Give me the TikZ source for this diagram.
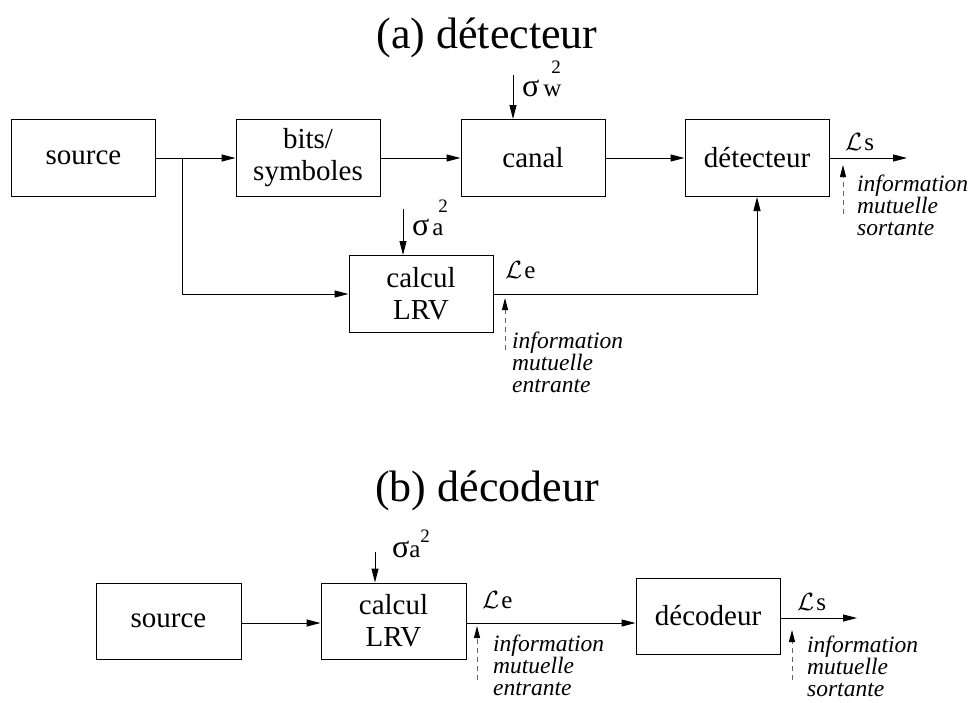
\documentclass[tikz,border=0pt]{standalone}
\usepackage{fontspec}
\setmainfont{Liberation Serif}
\usetikzlibrary{arrows.meta}
\newcommand\sgm[4]{{\fontsize{32}{32}\selectfont σ}\kern#2pt{\fontsize{25}{25}\selectfont\rlap{\kern#3pt\raisebox{#4pt}{\fontsize{19}{19}\selectfont 2}}#1}}
\newcommand\calL[1]{{\fontsize{32}{32}\selectfont$\mathcal{L}$}\kern2pt{\fontsize{25}{25}\selectfont #1}}
\begin{document}
\begin{tikzpicture}[x=1pt,y=-1pt,
  blk/.style={draw,line width=1pt,minimum width=144pt,minimum height=77pt,inner sep=0pt,align=center,font=\fontsize{29}{32}\selectfont},
  arr/.style={line width=1pt,-{Triangle[length=14pt,width=7pt]}},
  ln/.style={line width=1pt},
  dasharr/.style={line width=1pt,draw=black!60,dash pattern=on 5pt off 4pt,-{Triangle[length=12pt,width=6pt,fill=black,color=black]}},
  info/.style={anchor=north west,inner sep=0pt,align=left,font=\fontsize{23.5}{22}\selectfont\itshape},
  lab/.style={anchor=base west,inner sep=0pt},
  ttl/.style={anchor=base,inner sep=0pt,font=\fontsize{44}{46}\selectfont}]
\useasboundingbox (0,0) rectangle (971,702);
% ---------- (a)
\node[ttl] (ta) at (487,48) {(a) détecteur};
\node[blk] (src) at (83.5,158) {source};
\node[blk] (bits) at (308,158) {bits/\\symboles};
\node[blk] (canal) at (533,158) {canal};
\node[blk] (det) at (757,158) {détecteur};
\node[blk] (calc) at (421,294) {calcul\\LRV};
\coordinate (br) at (182,158);
\coordinate (sw) at (513,75);
\coordinate (sa) at (403,209);
\coordinate (lsend) at (907,158);
\draw[ln] (src) -- (br);
\draw[arr] (br) -- (bits);
\draw[arr] (bits) -- (canal);
\draw[arr] (canal) -- (det);
\draw[arr] (br) |- (calc);
\draw[arr] (calc) -| (det);
\draw[arr] (det) -- (lsend);
\draw[arr] (sw) -- (sw |- canal.north);
\draw[arr] (sa) -- (sa |- calc.north);
\node[lab] (sgw) at (522,96) {\sgm{w}{4}{8}{23}};
\node[lab] (sga) at (412,235) {\sgm{a}{3}{6}{23}};
\node[lab] (le1) at (505,278) {\calL{e}};
\node[lab] (ls1) at (845,150) {\calL{s}};
\coordinate (d1a) at (505,350);
\coordinate (d1b) at (505,298);
\draw[dasharr] (d1a) -- (d1b);
\coordinate (d2a) at (843,214);
\coordinate (d2b) at (843,165);
\draw[dasharr] (d2a) -- (d2b);
\node[info] (i1) at (512,332) {information\\mutuelle\\entrante};
\node[info] (i2) at (857,175) {information\\mutuelle\\sortante};
% ---------- (b)
\node[ttl] (tb) at (487,501) {(b) décodeur};
\node[blk,minimum width=145pt,minimum height=76pt] (src2) at (168.5,621) {source};
\node[blk,minimum width=145pt,minimum height=76pt] (calc2) at (393.5,621) {calcul\\LRV};
\node[blk,minimum height=76pt] (dec) at (708,616) {décodeur};
\coordinate (sb) at (375,552);
\coordinate (lsend2) at (857,618);
\draw[arr] (src2.east |- 0,623) -- (calc2.west |- 0,623);
\draw[arr] (calc2.east |- 0,623) -- (dec.west |- 0,623);
\draw[arr] (dec.east |- 0,618) -- (lsend2);
\draw[arr] (sb) -- (sb |- calc2.north);
\node[lab] (sgb) at (392,557) {\sgm{a}{0}{11}{15}};
\node[lab] (le2) at (482,608) {\calL{e}};
\node[lab] (ls2) at (797,610) {\calL{s}};
\coordinate (d3a) at (477,680);
\coordinate (d3b) at (477,626);
\draw[dasharr] (d3a) -- (d3b);
\coordinate (d4a) at (792,680);
\coordinate (d4b) at (792,630);
\draw[dasharr] (d4a) -- (d4b);
\node[info] (i3) at (493,635) {information\\mutuelle\\entrante};
\node[info] (i4) at (807,636) {information\\mutuelle\\sortante};
\end{tikzpicture}
\end{document}
